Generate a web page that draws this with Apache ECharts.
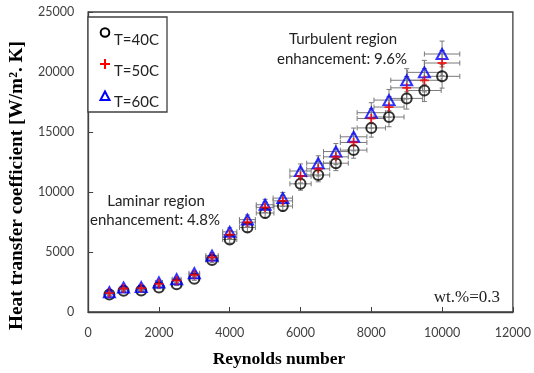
<!DOCTYPE html>
<html>
<head>
<meta charset="utf-8">
<script src="https://cdn.jsdelivr.net/npm/echarts@6/dist/echarts.min.js"></script>
<style>html,body{margin:0;padding:0;background:#fff}#c{width:534px;height:373px}</style>
</head>
<body>
<div id="c"></div>
<script>
// Reynolds numbers (x)
const reynolds = [600, 1000, 1500, 2000, 2500, 3000, 3500, 4000, 4500, 5000, 5500, 6000, 6500, 7000, 7500, 8000, 8500, 9000, 9500, 10000];
// Heat transfer coefficient [W/m2.K]
const h40 = [1450, 1780, 1800, 2050, 2320, 2780, 4330, 6040, 7040, 8250, 8830, 10680, 11420, 12400, 13490, 15340, 16250, 17800, 18460, 19640];
const h50 = [1580, 1960, 1990, 2350, 2630, 3100, 4560, 6450, 7480, 8720, 9260, 11320, 11930, 12930, 14130, 16130, 17080, 18680, 19310, 20750];
const h60 = [1650, 2040, 2070, 2460, 2730, 3230, 4690, 6680, 7700, 8940, 9490, 11750, 12400, 13370, 14600, 16610, 17660, 19310, 19970, 21500];
const seriesNames = ['T=40C', 'T=50C', 'T=60C'];
const xTicks = [0, 2000, 4000, 6000, 8000, 10000, 12000];
const yTicks = [0, 5000, 10000, 15000, 20000, 25000];
const errFrac = 0.05; // +/- 5% error bars on both axes

const toPairs = (ys) => reynolds.map((x, i) => [x, ys[i]]);

function errorSeries(ys, z) {
  return {
    type: 'custom',
    silent: true,
    z: z,
    data: toPairs(ys),
    renderItem: function (params, api) {
      const x = api.value(0), y = api.value(1);
      const c = api.coord([x, y]);
      const xl = api.coord([x * (1 - errFrac), y]);
      const xr = api.coord([x * (1 + errFrac), y]);
      const yb = api.coord([x, y * (1 - errFrac)]);
      const yt = api.coord([x, y * (1 + errFrac)]);
      const cap = 2.5;
      const st = { stroke: '#7a7a7a', lineWidth: 1 };
      const ln = (x1, y1, x2, y2) => ({ type: 'line', shape: { x1, y1, x2, y2 }, style: st });
      return {
        type: 'group',
        children: [
          ln(xl[0], c[1], xr[0], c[1]),
          ln(xl[0], c[1] - cap, xl[0], c[1] + cap),
          ln(xr[0], c[1] - cap, xr[0], c[1] + cap),
          ln(c[0], yb[1], c[0], yt[1]),
          ln(c[0] - cap, yb[1], c[0] + cap, yb[1]),
          ln(c[0] - cap, yt[1], c[0] + cap, yt[1])
        ]
      };
    }
  };
}

const plusPath = 'path://M4,0h2v4h4v2h-4v4h-2v-4h-4v-2h4z';

const chart = echarts.init(document.getElementById('c'), null, { renderer: 'canvas' });
const axisLabelStyle = { color: '#404040', fontFamily: 'Lato', fontSize: 12.5, formatter: (v) => String(v) };
const legendFont = '15px Lato';

chart.setOption({
  animation: false,
  backgroundColor: '#fff',
  grid: { left: 81, right: 17, top: 12, bottom: 59, show: true, borderColor: '#404040', borderWidth: 1.3, backgroundColor: 'transparent' },
  xAxis: {
    type: 'value', min: xTicks[0], max: xTicks[xTicks.length - 1], interval: 2000,
    name: 'Reynolds number', nameLocation: 'middle', nameGap: 38,
    nameTextStyle: { fontFamily: 'Liberation Serif', fontWeight: 'bold', fontSize: 17.5, color: '#000', padding: [0, 43, 0, 0] },
    axisLine: { show: true, lineStyle: { color: '#404040', width: 1.3 } },
    axisTick: { show: true, inside: true, length: 5, lineStyle: { color: '#404040' } },
    axisLabel: Object.assign({ margin: 14 }, axisLabelStyle),
    splitLine: { show: false }
  },
  yAxis: {
    type: 'value', min: yTicks[0], max: yTicks[yTicks.length - 1], interval: 5000,
    name: 'Heat transfer coefficient [W/m\u00B2. K]', nameLocation: 'middle', nameGap: 55,
    nameTextStyle: { fontFamily: 'Liberation Serif', fontWeight: 'bold', fontSize: 19.3, color: '#000', padding: [0, 47, 0, 0] },
    axisLine: { show: true, lineStyle: { color: '#404040', width: 1.3 } },
    axisTick: { show: true, inside: true, length: 5, lineStyle: { color: '#404040' } },
    axisLabel: Object.assign({ margin: 14 }, axisLabelStyle),
    splitLine: { show: false }
  },
  graphic: [
    // legend box
    { type: 'rect', shape: { x: 88, y: 17, width: 79, height: 95 }, style: { fill: '#fff', stroke: '#404040', lineWidth: 1.3 }, z: 10 },
    { type: 'circle', shape: { cx: 105, cy: 32.5, r: 4.3 }, style: { fill: 'none', stroke: '#000', lineWidth: 2 }, z: 11 },
    { type: 'text', x: 114, y: 40, style: { text: seriesNames[0], font: legendFont, fill: '#222', verticalAlign: 'middle' }, z: 11 },
    { type: 'polygon', shape: { points: [[104, 59], [106, 59], [106, 63], [110, 63], [110, 65], [106, 65], [106, 69], [104, 69], [104, 65], [100, 65], [100, 63], [104, 63]] }, style: { fill: '#ff0000' }, z: 11 },
    { type: 'text', x: 114, y: 71.5, style: { text: seriesNames[1], font: legendFont, fill: '#222', verticalAlign: 'middle' }, z: 11 },
    { type: 'polygon', shape: { points: [[105, 91.5], [109.5, 100], [100.5, 100]] }, style: { fill: 'none', stroke: '#0000ff', lineWidth: 2 }, z: 11 },
    { type: 'text', x: 114, y: 102, style: { text: seriesNames[2], font: legendFont, fill: '#222', verticalAlign: 'middle' }, z: 11 },
    // annotations
    { type: 'text', x: 343, y: 39, style: { text: 'Turbulent region', font: '15px Lato', fill: '#222', align: 'center', verticalAlign: 'middle' } },
    { type: 'text', x: 342, y: 59, style: { text: 'enhancement: 9.6%', font: '15px Lato', fill: '#222', align: 'center', verticalAlign: 'middle' } },
    { type: 'text', x: 156, y: 201, style: { text: 'Laminar region', font: '15px Lato', fill: '#222', align: 'center', verticalAlign: 'middle' } },
    { type: 'text', x: 155, y: 220, style: { text: 'enhancement: 4.8%', font: '15px Lato', fill: '#222', align: 'center', verticalAlign: 'middle' } },
    { type: 'text', x: 500, y: 298, style: { text: 'wt.%=0.3', font: '17px "Liberation Serif"', fill: '#222', align: 'right', verticalAlign: 'middle' } }
  ],
  series: [
    errorSeries(h40, 1),
    errorSeries(h50, 1),
    errorSeries(h60, 1),
    {
      name: seriesNames[0], type: 'scatter', z: 2, data: toPairs(h40),
      symbol: 'circle', symbolSize: 10,
      itemStyle: { color: 'transparent', borderColor: '#000', borderWidth: 2 }
    },
    {
      name: seriesNames[2], type: 'scatter', z: 3, data: toPairs(h60),
      symbol: 'triangle', symbolSize: [11, 10],
      itemStyle: { color: 'transparent', borderColor: '#0000ff', borderWidth: 2 }
    },
    {
      name: seriesNames[1], type: 'scatter', z: 4, data: toPairs(h50),
      symbol: plusPath, symbolSize: 9,
      itemStyle: { color: '#ff0000' }
    }
  ]
});
</script>
</body>
</html>
